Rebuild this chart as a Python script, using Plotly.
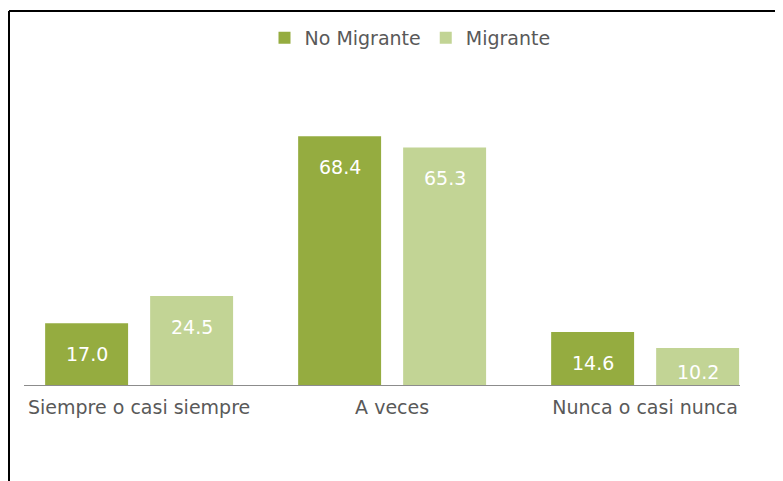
import plotly.graph_objects as go

categories = ["Siempre o casi siempre", "A veces", "Nunca o casi nunca"]
no_migrante = [17.0, 68.4, 14.6]
migrante = [24.5, 65.3, 10.2]
series_names = ["No Migrante", "Migrante"]

dark = "#95AC40"
light = "#C2D495"
font_family = "DejaVu Sans"
gray = "#595959"

# page is offset by the browser's default 8px body margin
L, R, T, B = 16, 732, 86, 377
W, H = 783, 481
PW, PH = R - L, B - T

fig = go.Figure()
fig.add_trace(go.Bar(x=categories, y=no_migrante, name=series_names[0],
                     marker=dict(color=dark, line=dict(width=0)), hoverinfo="skip"))
fig.add_trace(go.Bar(x=categories, y=migrante, name=series_names[1],
                     marker=dict(color=light, line=dict(width=0)), hoverinfo="skip"))

px_per_unit = PH / 80.0
for vals, xs in ((no_migrante, -52.5), (migrante, 52.5)):
    for c, v in zip(categories, vals):
        h = v * px_per_unit
        shift = -min(31, 0.65 * h)
        fig.add_annotation(x=c, y=v, xref="x", yref="y", text=f"{v:.1f}",
                           showarrow=False, xshift=xs, yshift=shift,
                           yanchor="middle",
                           font=dict(family=font_family, size=19, color="white"))

fig.update_layout(
    width=W, height=H,
    margin=dict(l=L, r=W - R, t=T, b=H - B),
    paper_bgcolor="white", plot_bgcolor="white",
    barmode="group", bargap=0.17, bargroupgap=0.21,
    showlegend=True,
    legend=dict(orientation="h", xref="container", yref="container",
                x=402 / W, y=(H - 30) / H, xanchor="center", yanchor="middle",
                font=dict(family=font_family, size=19, color=gray),
                itemwidth=30, traceorder="normal"),
    xaxis=dict(range=[-0.455, 2.375], showline=True, linecolor="#8C8C8C", linewidth=1,
               ticks="", showgrid=False, zeroline=False, ticklabelstandoff=5,
               tickfont=dict(family=font_family, size=19, color=gray)),
    yaxis=dict(range=[0, 80], visible=False, showgrid=False, zeroline=False),
    shapes=[
        dict(type="line", xref="paper", yref="paper",
             x0=(1 - L) / PW, x1=(W + 10 - L) / PW,
             y0=(B - 3) / PH, y1=(B - 3) / PH,
             line=dict(color="black", width=2)),
        dict(type="line", xref="paper", yref="paper",
             x0=(1 - L) / PW, x1=(1 - L) / PW,
             y0=(B - 3) / PH, y1=(B - H - 10) / PH,
             line=dict(color="black", width=2)),
    ],
)

fig.write_html("out.html")
